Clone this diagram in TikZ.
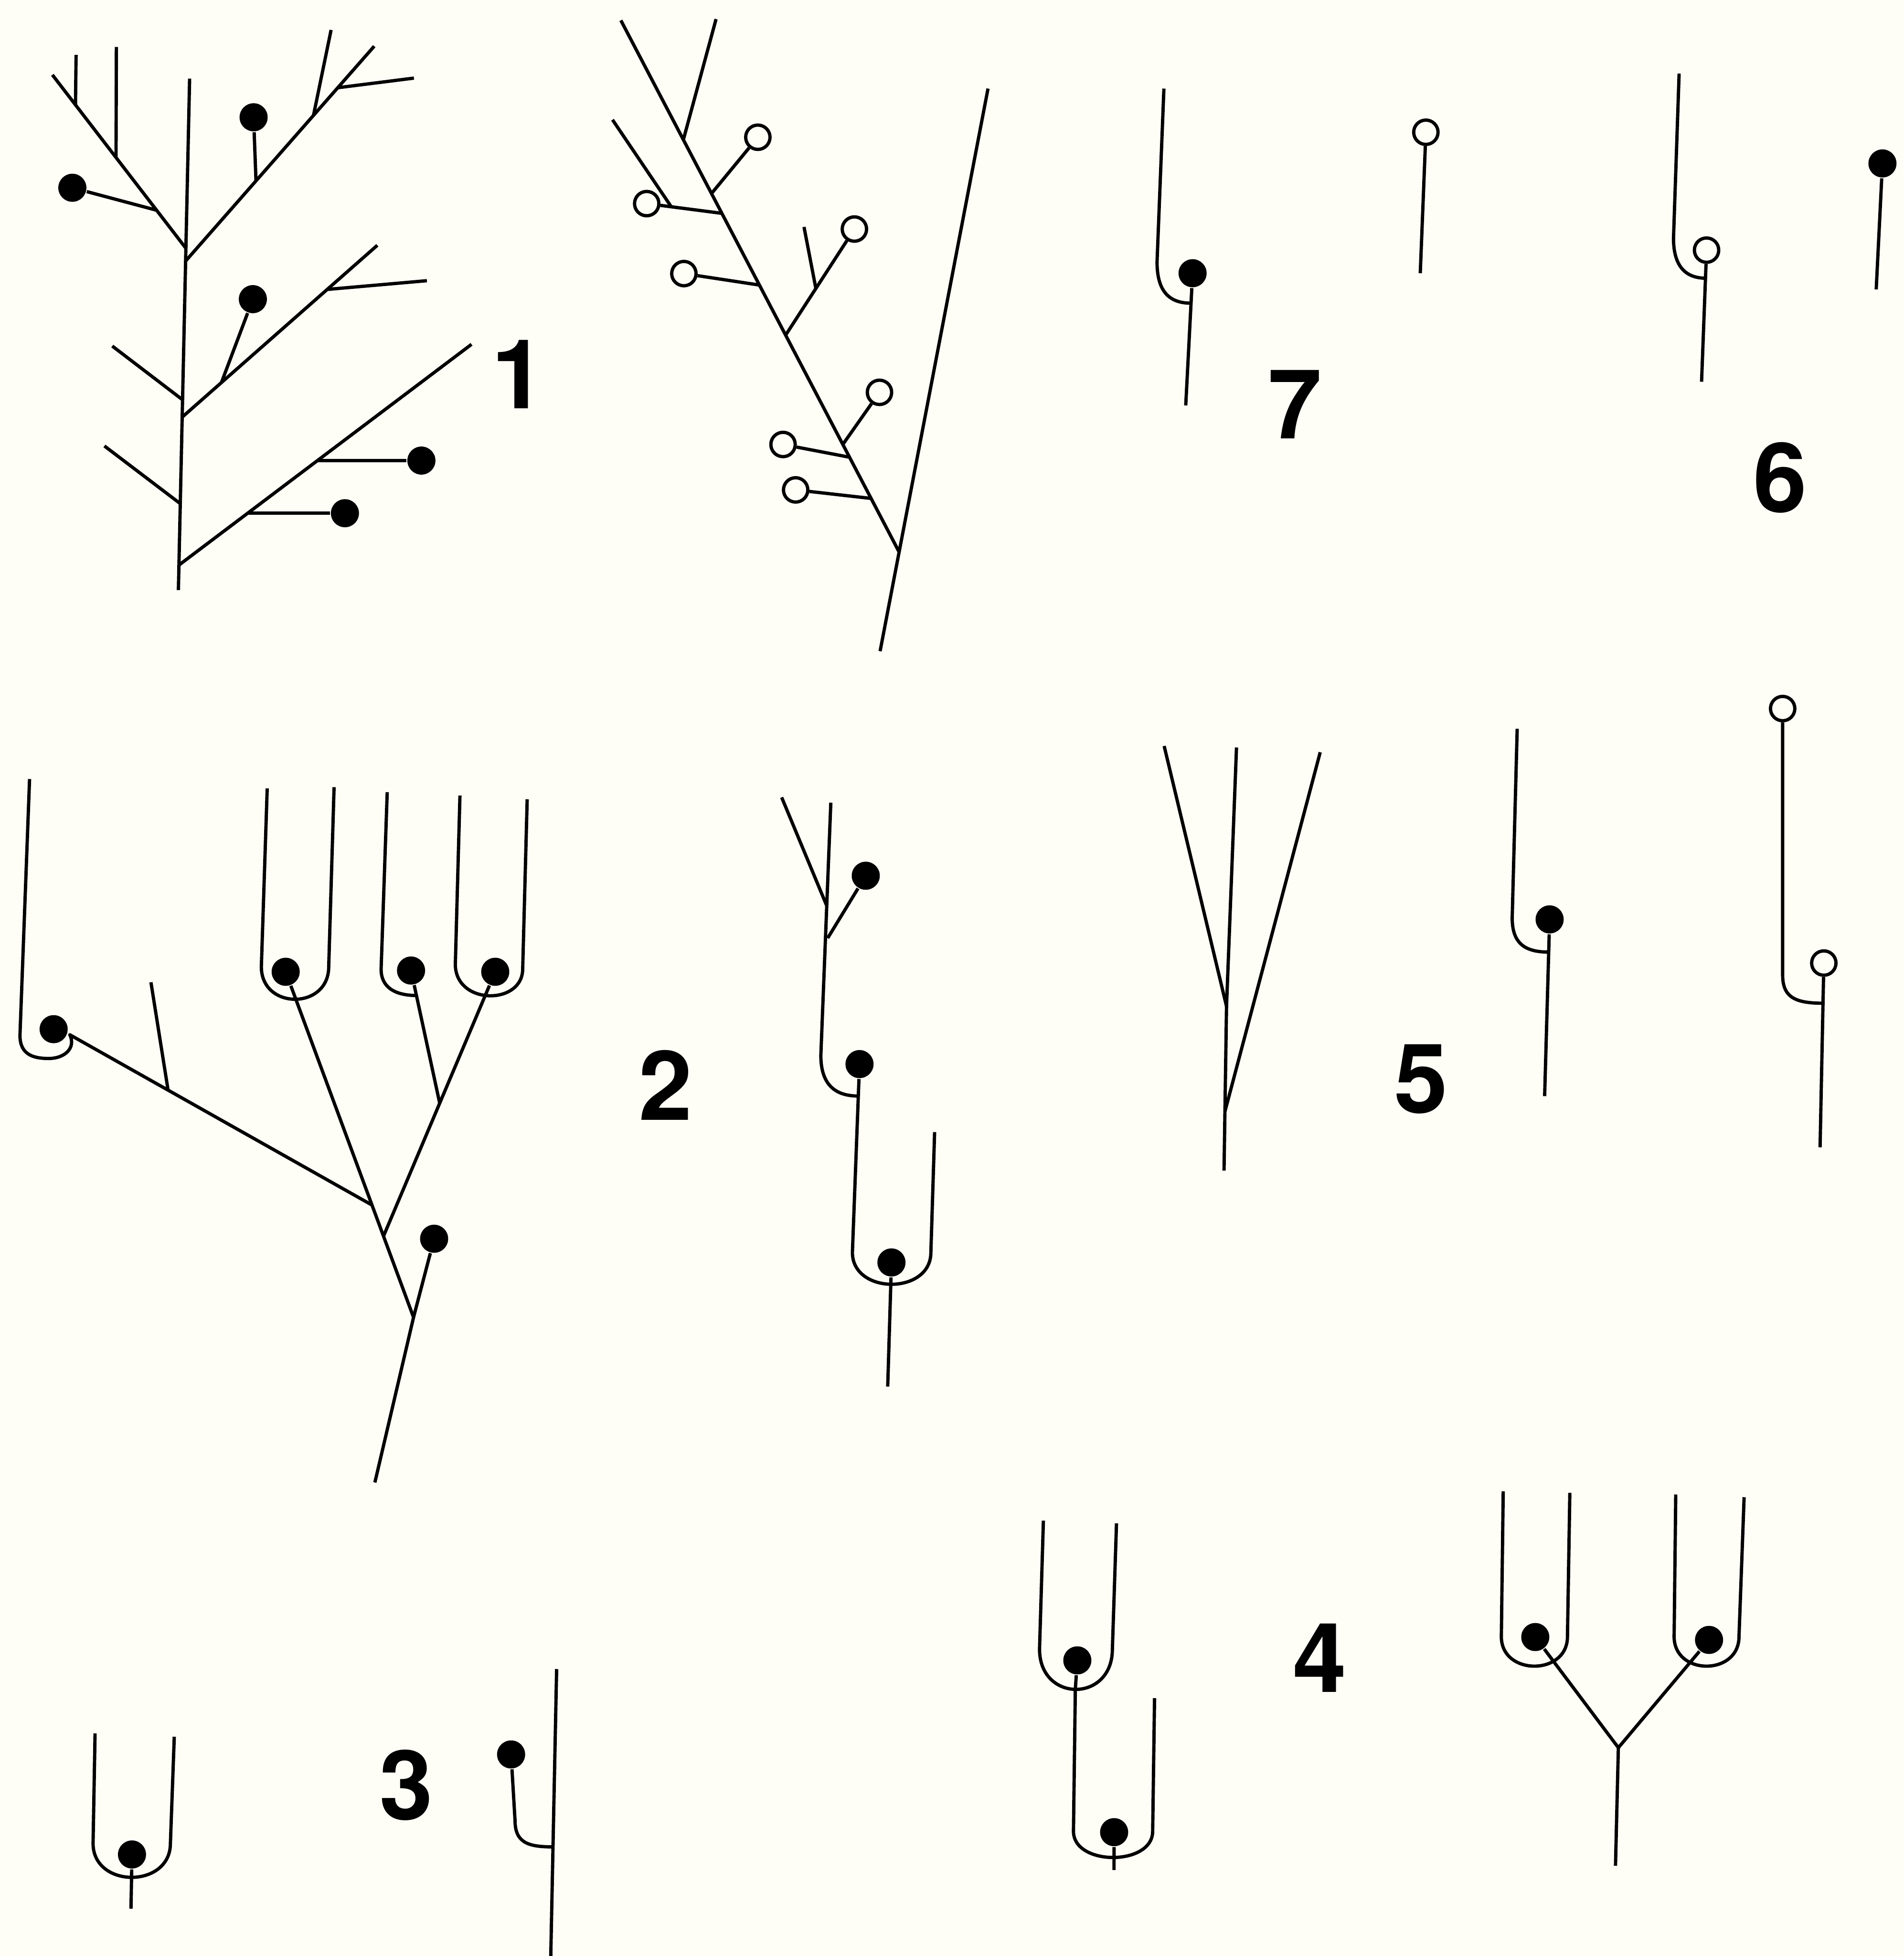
\documentclass[tikz,border=0pt]{standalone}
\usepackage{fontspec}
\setmainfont{TeX Gyre Heros}
\definecolor{bgc}{RGB}{254,254,247}
\begin{document}
\begin{tikzpicture}[x=0.01cm,y=-0.01cm,
  ln/.style={line width=0.75pt, line join=round},
  dot/.style={circle, fill=black, draw=none, inner sep=0pt, minimum size=0.225cm},
  odot/.style={circle, draw=black, fill=none, line width=0.75pt, inner sep=0pt, minimum size=0.195cm},
  lab/.style={inner sep=0pt, font=\fontsize{22pt}{22pt}\selectfont\bfseries}]
\fill[bgc] (0,0) rectangle (1526,1568);
\useasboundingbox (0,0) rectangle (1526,1568);

% ---------- Figure 1 ----------
\node[dot] (f1a) at (58,150.5) {};
\node[dot] (f1b) at (203.3,94) {};
\node[dot] (f1c) at (202.7,239.8) {};
\node[dot] (f1d) at (337.8,369.2) {};
\node[dot] (f1e) at (276.5,411.4) {};
\draw[ln] (152,63) -- (143,473);
\draw[ln] (42,60) -- (149,199);
\draw[ln] (61,44) -- (60.5,84);
\draw[ln] (93.3,37.6) -- (93,126);
\draw[ln] (f1a) -- (125.5,168.5);
\draw[ln] (149,209) -- (300,37);
\draw[ln] (251.3,92.5) -- (265.4,24);
\draw[ln] (270.8,70.3) -- (331.8,62.6);
\draw[ln] (f1b) -- (205.2,145);
\draw[ln] (90,277.4) -- (146.4,320.5);
\draw[ln] (146,334.4) -- (302.5,196.6);
\draw[ln] (262.3,232) -- (342.2,225);
\draw[ln] (f1c) -- (177.5,306.7);
\draw[ln] (83.7,357.5) -- (144.5,403.7);
\draw[ln] (143.4,453) -- (378,276);
\draw[ln] (254.5,369.2) -- (f1d);
\draw[ln] (198.5,411.4) -- (f1e);
\node[lab] (n1) at (415.5,300) {1};

% ---------- Top middle figure ----------
\node[odot] (c1) at (518.4,163.2) {};
\node[odot] (c2) at (607.5,110) {};
\node[odot] (c3) at (548.2,219.3) {};
\node[odot] (c4) at (684.9,183.6) {};
\node[odot] (c5) at (705,314.5) {};
\node[odot] (c6) at (627.7,356.3) {};
\node[odot] (c7) at (637.8,392.7) {};
\draw[ln] (792,71) -- (705.5,522);
\draw[ln] (497.7,16.3) -- (720.5,442);
\draw[ln] (547.8,112) -- (574,15.3);
\draw[ln] (c1) -- (578.7,171);
\draw[ln] (491,96) -- (538,165.6);
\draw[ln] (c2) -- (570.7,154.7);
\draw[ln] (c3) -- (608.8,228.5);
\draw[ln] (629.8,268.6) -- (c4);
\draw[ln] (654,231.2) -- (644.5,181.9);
\draw[ln] (c5) -- (675.6,356.3);
\draw[ln] (c6) -- (681,366.5);
\draw[ln] (c7) -- (698,399.5);

% ---------- Figure 7 ----------
\node[dot] (f7a) at (956,219) {};
\node[odot] (f7b) at (1143,106) {};
\draw[ln] (933,71) -- (927.5,210) .. controls (927.5,232) and (936,243) .. (954.5,243);
\draw[ln] (f7a) -- (950.5,325);
\draw[ln] (f7b) -- (1138.5,219);
\node[lab] (n7) at (1038,324) {7};

% ---------- Figure 6 ----------
\node[odot] (f6a) at (1368,200.5) {};
\node[dot] (f6b) at (1509,131) {};
\draw[ln] (1346,59) -- (1341.5,191) .. controls (1341.5,212) and (1350,223) .. (1367.5,223);
\draw[ln] (f6a) -- (1364,306);
\draw[ln] (f6b) -- (1504,232);
\node[lab] (n6) at (1427,383) {6};

% ---------- Figure 2 ----------
\node[dot] (f2a) at (43,825) {};
\node[dot] (f2b) at (229,779) {};
\node[dot] (f2c) at (329.5,778) {};
\node[dot] (f2d) at (397,779) {};
\node[dot] (f2e) at (348,993) {};
% left hook round the dot
\draw[ln] (23.7,624.5) -- (16,830) .. controls (16,845) and (26,848.5) .. (39,848.5)
  .. controls (52,848.5) and (61,840) .. (56,829.5) -- (298.2,966);
\draw[ln] (121,787.4) -- (134.8,874.3);
% U1
\draw[ln] (214.2,632) -- (209.5,775) .. controls (209.5,809.7) and (263.5,809.7) .. (263.5,775) -- (267.8,631);
% U2 (hook)
\draw[ln] (310.4,635) -- (305.5,777) .. controls (305.5,791) and (316,798) .. (334,798);
% U3
\draw[ln] (368.7,637.7) -- (365,773) .. controls (365,806) and (419,806) .. (419,776.7) -- (422.6,640.7);
% main axis
\draw[ln] (f2b) -- (331.5,1056) -- (300.5,1188.4);
\draw[ln] (f2d) -- (307.4,991);
\draw[ln] (f2c) -- (352.4,884);
\draw[ln] (331.5,1056) -- (f2e);
\node[lab] (n2) at (533.7,870) {2};

% ---------- Middle figure ----------
\node[dot] (m1) at (694,702) {};
\node[dot] (m2) at (689,853) {};
\node[dot] (m3) at (714.6,1012) {};
\draw[ln] (626.6,639.2) -- (662.7,726);
\draw[ln] (666,643.4) -- (658,846) .. controls (658,870) and (670,878.6) .. (688,878.6);
\draw[ln] (663.5,752) -- (m1);
\draw[ln] (m2) -- (683.3,1004) .. controls (683.3,1038) and (746.2,1038) .. (746.2,1004) -- (749.2,907.5);
\draw[ln] (m3) -- (711.6,1111.5);

% ---------- Figure 5 ----------
\draw[ln] (933.2,598) -- (983.2,806.7);
\draw[ln] (991.2,599.2) -- (983.2,806.7) -- (981.2,938.4);
\draw[ln] (1058.3,603) -- (981.9,891.1);
\node[lab] (n5) at (1139,865) {5};
\node[dot] (f5a) at (1242.2,737) {};
\draw[ln] (1216.2,584.2) -- (1212.2,735.8) .. controls (1212.2,756) and (1222,763.2) .. (1241.5,763.2);
\draw[ln] (f5a) -- (1238.2,878.7);
\node[odot] (f5b) at (1429,568) {};
\node[odot] (f5c) at (1462,772) {};
\draw[ln] (f5b) -- (1429,781.8) .. controls (1429,800) and (1440,804.2) .. (1461.5,804.2);
\draw[ln] (f5c) -- (1459,919.7);

% ---------- Figure 3 ----------
\node[dot] (f3a) at (105.8,1486.6) {};
\draw[ln] (76.2,1389.5) -- (74.6,1477.7) .. controls (74.6,1514) and (136.6,1514) .. (136.6,1477.7) -- (139.7,1392.2);
\draw[ln] (f3a) -- (105,1530);
\node[dot] (f3b) at (409.7,1406.4) {};
\draw[ln] (446.2,1338) -- (441.5,1568);
\draw[ln] (f3b) -- (412.9,1460) .. controls (413,1478) and (425,1480.5) .. (443.3,1480.5);
\node[lab] (n3) at (325.5,1431) {3};

% ---------- Figure 4 ----------
\node[dot] (f4a) at (863.6,1331) {};
\node[dot] (f4b) at (893.1,1468.7) {};
\draw[ln] (836.4,1219) -- (833.3,1322) .. controls (833.3,1365) and (891.7,1365) .. (891.7,1322) -- (895,1221.2);
\draw[ln] (f4a) -- (862,1354) -- (860.5,1468) .. controls (860.5,1496) and (924,1496) .. (924,1468) -- (925.5,1361.3);
\draw[ln] (f4b) -- (893,1499);
\node[lab] (n4) at (1058,1329) {4};
\node[dot] (f4c) at (1230.7,1312.3) {};
\node[dot] (f4d) at (1370,1314.6) {};
\coordinate (yj) at (1297.3,1401);
\draw[ln] (1205,1195.5) -- (1203.5,1312) .. controls (1203.5,1343.5) and (1256.5,1343.5) .. (1256.5,1312) -- (1258.4,1196.7);
\draw[ln] (1343.3,1198) -- (1342,1312) .. controls (1342,1343.5) and (1394,1343.5) .. (1394,1312) -- (1398.1,1200.2);
\draw[ln] (f4c) -- (yj);
\draw[ln] (f4d) -- (yj);
\draw[ln] (yj) -- (1295,1495.6);
\end{tikzpicture}
\end{document}
